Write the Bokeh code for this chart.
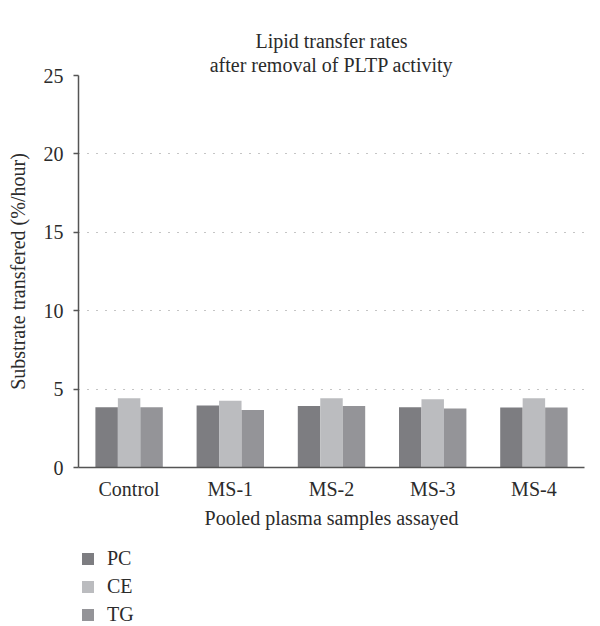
from bokeh.plotting import figure
from bokeh.models import FactorRange, Legend, LegendItem, SingleIntervalTicker, Title
from bokeh.layouts import column
from bokeh.transform import dodge
from bokeh.embed import file_html
from bokeh.resources import INLINE

categories = ["Control", "MS-1", "MS-2", "MS-3", "MS-4"]
series = ["PC", "CE", "TG"]
pc = [3.85, 3.96, 3.92, 3.85, 3.83]
ce = [4.41, 4.26, 4.41, 4.36, 4.41]
tg = [3.85, 3.67, 3.92, 3.77, 3.83]
colors = ["#7d7d81", "#bbbcbf", "#949498"]
title_lines = ["Lipid transfer rates", "after removal of PLTP activity"]

FONT = "Liberation Serif"
TXT = "#2b2b2b"
FS = "20px"

p = figure(x_range=FactorRange(*categories, range_padding=0), y_range=(0, 25),
           width=600, height=542, output_backend="svg", toolbar_location=None,
           min_border_left=78, min_border_right=16, min_border_top=75, min_border_bottom=75)
p.x_range.range_padding = 0

p.title.text = title_lines[0]
p.title.align = "center"
p.title.text_font = FONT
p.title.text_font_style = "normal"
p.title.text_font_size = FS
p.title.text_color = TXT
p.title.standoff = 0
t2 = Title(text=title_lines[1], align="center", text_font=FONT, text_font_style="normal",
           text_font_size=FS, text_color=TXT, standoff=0)
p.add_layout(t2, "above")

data = dict(cat=categories, PC=pc, CE=ce, TG=tg)
offsets = [-0.222, 0.0, 0.222]
for s, off, c in zip(series, offsets, colors):
    p.vbar(x=dodge("cat", off, range=p.x_range), top=s, width=0.222, source=data,
           fill_color=c, line_color=None)

p.outline_line_color = None
p.xgrid.grid_line_color = None
p.ygrid.grid_line_color = "#8a8a8a"
p.ygrid.grid_line_dash = "1 8"
p.ygrid.grid_line_width = 1.2
p.ygrid.bounds = (5, 25)

p.yaxis.ticker = SingleIntervalTicker(interval=5)
p.yaxis.minor_tick_line_color = None
p.yaxis.major_tick_out = 5
p.yaxis.major_tick_in = 0
p.yaxis.major_label_standoff = 10
p.yaxis.axis_label = "Substrate transfered (%/hour)"
p.yaxis.axis_label_standoff = 12

p.xaxis.major_label_standoff = 4
p.xaxis.axis_label = "Pooled plasma samples assayed"
p.xaxis.axis_label_standoff = 4

for ax in (p.xaxis, p.yaxis):
    ax.axis_line_color = "#555555"
    ax.axis_line_width = 1.5
    ax.major_tick_line_width = 1.5
    ax.major_label_text_font = FONT
    ax.major_label_text_color = TXT
    ax.major_label_text_font_size = FS
    ax.axis_label_text_font = FONT
    ax.axis_label_text_font_style = "normal"
    ax.axis_label_text_color = TXT
    ax.axis_label_text_font_size = FS
p.yaxis.major_tick_line_color = "#555555"
p.xaxis.major_tick_line_color = None

# legend strip below the chart (its bars lie outside the visible y range)
p2 = figure(width=600, height=84, output_backend="svg", toolbar_location=None,
            x_axis_type=None, y_axis_type=None,
            x_range=FactorRange(*categories, range_padding=0), y_range=(100, 101),
            min_border=0, min_border_left=0, min_border_right=0,
            min_border_top=0, min_border_bottom=0)
p2.outline_line_color = None
p2.grid.grid_line_color = None
rs = [p2.vbar(x=dodge("cat", off, range=p2.x_range), top=s, width=0.222, source=data,
              fill_color=c, line_color=None)
      for s, off, c in zip(series, offsets, colors)]
legend = Legend(items=[LegendItem(label=s, renderers=[r]) for s, r in zip(series, rs)],
                location=(2, 0), orientation="vertical",
                glyph_width=15, glyph_height=15, label_height=20,
                spacing=5, padding=0, margin=0, label_standoff=12,
                label_text_font=FONT, label_text_font_size=FS, label_text_color=TXT,
                border_line_color=None, background_fill_alpha=0)
p2.add_layout(legend, "center")

layout = column(p, p2, spacing=0)
open("out.html", "w").write(file_html(layout, INLINE))
